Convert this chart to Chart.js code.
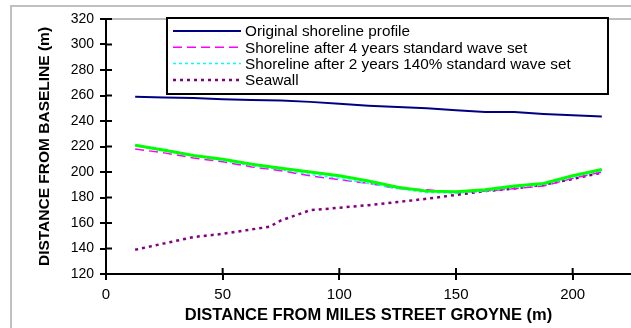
<!DOCTYPE html>
<html>
<head>
<meta charset="utf-8">
<script src="https://cdn.jsdelivr.net/npm/chart.js@4/dist/chart.umd.min.js"></script>
<style>
  html, body { margin: 0; padding: 0; background: #fff; overflow: hidden; }
  #wrap { position: relative; width: 631px; height: 328px; }
  canvas { position: absolute; left: 0; top: 0; }
</style>
</head>
<body>
<div id="wrap"><canvas id="c" width="631" height="328"></canvas></div>
<script>
// ---- data ----
const profileX = [12.5, 25, 37.5, 50, 62.5, 75, 87.5, 100, 112.5, 125, 137.5, 150, 162.5, 175, 187.5, 200, 212.5];
const originalShoreline = [259, 258.5, 258, 257, 256.5, 256, 255, 253.5, 252, 251, 250, 248.5, 247, 247, 245.5, 244.5, 243.5];
const after4Years = [218, 215, 211, 208, 204, 201, 197, 194, 191, 187, 186, 184, 185, 187, 189, 195, 200];
const after2Years140 = [221, 218, 213, 209, 205, 202, 198, 195, 191, 187, 184, 183.5, 185, 188, 190, 196, 201];
const greenLine = [221, 217, 213, 210, 206, 203, 200, 197, 193, 188, 185, 184.5, 186, 189, 191, 197, 202];
const seawallX = [12.5, 25, 37.5, 50, 62.5, 70, 75, 87.5, 100, 112.5, 125, 137.5, 150, 162.5, 175, 187.5, 200, 212.5];
const seawall = [139, 144, 149, 151.5, 155, 157, 162, 170, 172, 174, 176.5, 179, 182, 185, 187, 190, 194.5, 199.5];
const legendLabels = ['Original shoreline profile', 'Shoreline after 4 years standard wave set', 'Shoreline after 2 years 140% standard wave set', 'Seawall'];
const xTitle = 'DISTANCE FROM MILES STREET GROYNE (m)';
const yTitle = 'DISTANCE FROM BASELINE (m)';

const pts = (xs, ys) => xs.map((x, i) => ({ x: x, y: ys[i] }));

const styles = [
  { color: '#000080', width: 2, dash: [] },
  { color: '#ff00ff', width: 1.5, dash: [9, 5] },
  { color: '#00ffff', width: 1.5, dash: [3, 3] },
  { color: '#800080', width: 2.5, dash: [3, 4] }
];

const framePlugin = {
  id: 'frame',
  beforeDraw(chart) {
    const ctx = chart.ctx;
    ctx.save();
    ctx.strokeStyle = '#c0c0c0';
    ctx.lineWidth = 2;
    ctx.beginPath();
    ctx.moveTo(11, 328); ctx.lineTo(11, 6); ctx.lineTo(631, 6);
    ctx.stroke();
    const a = chart.chartArea;
    ctx.strokeStyle = '#a8a8a8';
    ctx.lineWidth = 1.5;
    ctx.beginPath();
    ctx.moveTo(a.left, a.top); ctx.lineTo(a.right, a.top);
    ctx.stroke();
    ctx.restore();
  },
  afterDraw(chart) {
    const ctx = chart.ctx;
    const a = chart.chartArea;
    const xs = chart.scales.x, ys = chart.scales.y;
    ctx.save();
    ctx.strokeStyle = '#000';
    ctx.lineWidth = 2;
    ctx.beginPath();
    xs.ticks.forEach(t => { const p = xs.getPixelForValue(t.value); ctx.moveTo(p, a.bottom); ctx.lineTo(p, a.bottom - 6); });
    ys.ticks.forEach(t => { const p = ys.getPixelForValue(t.value); ctx.moveTo(a.left, p); ctx.lineTo(a.left + 6, p); });
    ctx.stroke();
    // legend box
    const lx = 167, ly = 18, lw = 441, lh = 76;
    ctx.fillStyle = '#fff';
    ctx.fillRect(lx, ly, lw, lh);
    ctx.strokeStyle = '#000';
    ctx.lineWidth = 2;
    ctx.strokeRect(lx, ly, lw, lh);
    ctx.font = '15.3px "Liberation Sans", Arial, sans-serif';
    ctx.textBaseline = 'middle';
    ctx.textAlign = 'left';
    legendLabels.forEach((lab, i) => {
      const y = 31 + i * 16.3;
      const s = styles[i];
      ctx.strokeStyle = s.color;
      ctx.lineWidth = s.width;
      ctx.setLineDash(s.dash);
      ctx.beginPath(); ctx.moveTo(173, y); ctx.lineTo(241, y); ctx.stroke();
      ctx.setLineDash([]);
      ctx.fillStyle = '#000';
      ctx.fillText(lab, 245, y + 1);
    });
    ctx.restore();
  }
};

const mk = (label, data, s, order) => ({
  label: label, data: data, borderColor: s.color, borderWidth: s.width, borderDash: s.dash,
  pointRadius: 0, fill: false, tension: 0, order: order
});

new Chart(document.getElementById('c'), {
  type: 'line',
  data: {
    datasets: [
      mk(legendLabels[0], pts(profileX, originalShoreline), styles[0], 3),
      mk(legendLabels[1], pts(profileX, after4Years), styles[1], 2),
      mk(legendLabels[2], pts(profileX, after2Years140), styles[2], 1),
      mk(legendLabels[3], pts(seawallX, seawall), styles[3], 4),
      mk('', pts(profileX, greenLine), { color: '#00ff00', width: 3, dash: [] }, 0)
    ]
  },
  options: {
    responsive: false,
    animation: false,
    devicePixelRatio: 1,
    layout: { padding: { left: 0, top: 19, right: 0, bottom: 0 } },
    plugins: { legend: { display: false }, tooltip: { enabled: false } },
    scales: {
      x: {
        type: 'linear', min: 0, max: 225,
        ticks: { stepSize: 50, includeBounds: false, color: '#000', padding: 6, font: { family: '"Liberation Sans", Arial, sans-serif', size: 15 } },
        grid: { drawOnChartArea: false, drawTicks: true, tickLength: 6, color: '#000', lineWidth: 2 },
        border: { color: '#000', width: 2 },
        title: { display: true, text: xTitle, color: '#000', padding: { top: 0, bottom: 3 }, font: { family: '"Liberation Sans", Arial, sans-serif', size: 16.5, weight: 'bold' } },
        afterFit(s) { s.height = 54; }
      },
      y: {
        type: 'linear', min: 120, max: 320,
        ticks: { stepSize: 20, color: '#000', padding: 6, font: { family: '"Liberation Sans", Arial, sans-serif', size: 14 } },
        grid: { drawOnChartArea: false, drawTicks: true, tickLength: 6, color: '#000', lineWidth: 2 },
        border: { color: '#000', width: 2 },
        title: { display: true, text: yTitle, color: '#000', padding: { top: 35, bottom: 0 }, font: { family: '"Liberation Sans", Arial, sans-serif', size: 15.5, weight: 'bold' } },
        afterFit(s) { s.width = 106; }
      }
    }
  },
  plugins: [framePlugin]
});
</script>
</body>
</html>
